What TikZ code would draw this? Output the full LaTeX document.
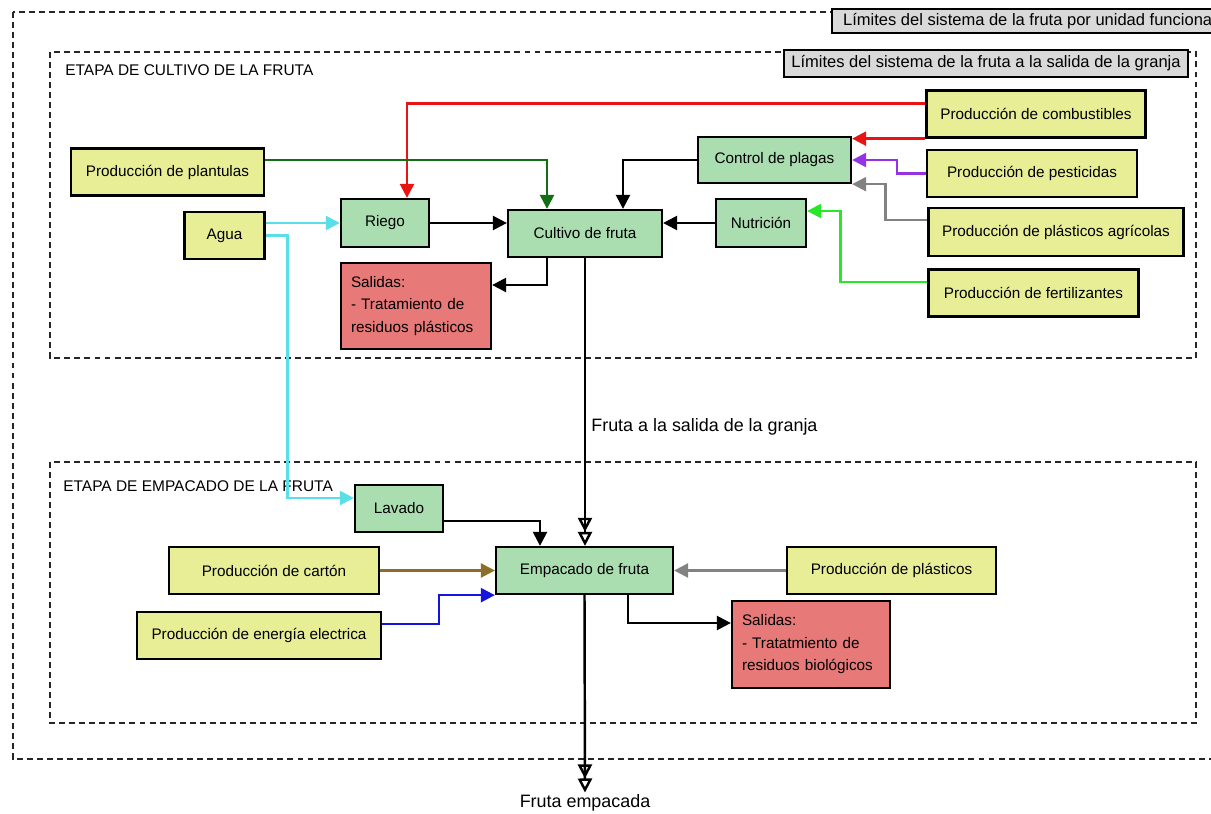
\documentclass[tikz,border=0pt]{standalone}
\usepackage{fontspec}
\setmainfont{Liberation Sans}
\usetikzlibrary{arrows.meta}

\definecolor{amarillo}{RGB}{232,238,150}
\definecolor{verdecaja}{RGB}{170,222,176}
\definecolor{rojocaja}{RGB}{231,122,120}
\definecolor{griscaja}{RGB}{217,217,217}
\definecolor{cian}{RGB}{90,222,232}
\definecolor{verdeoscuro}{RGB}{20,110,20}
\definecolor{verdeclaro}{RGB}{40,230,40}
\definecolor{rojoflecha}{RGB}{232,20,20}
\definecolor{morado}{RGB}{150,50,230}
\definecolor{grisflecha}{RGB}{130,130,130}
\definecolor{cafe}{RGB}{140,110,40}
\definecolor{azul}{RGB}{20,20,220}

\begin{document}
\begin{tikzpicture}[x=0.02cm, y=-0.02cm,
    caja/.style={draw, line width=1.3pt, font=\fontsize{8.7}{10}\selectfont, inner sep=2pt, minimum height=0.94cm},
    entrada/.style={caja, fill=amarillo},
    proceso/.style={caja, fill=verdecaja},
    salidas/.style={caja, fill=rojocaja, align=left, inner xsep=0.2cm, font=\fontsize{8.7}{12.8}\selectfont, minimum height=1.72cm},
    limite/.style={draw, line width=1.3pt, fill=griscaja, font=\fontsize{9.4}{11}\selectfont, inner sep=2pt},
    borde/.style={black!85, line width=0.9pt, dash pattern=on 3.4pt off 2.3pt},
    flujo/.style={->, line width=1.4pt},
    doble/.style={line width=1.4pt, -{Triangle[open,length=8pt,width=8pt]Triangle[open,length=8pt,width=8pt]}},
    >={Triangle[length=8pt,width=8pt]}]

        \useasboundingbox (0,0) rectangle (1211,814);

        % System boundaries
        \draw[borde] (13,12) rectangle (1240,759);
        \draw[borde] (50,52) rectangle (1196,358);
        \draw[borde] (50,462) rectangle (1196,723);
        \node[limite, anchor=north west, minimum height=0.48cm, inner xsep=0.22cm] (lim_total) at (831,8) {Límites del sistema de la fruta por unidad funcional};
        \node[limite, minimum width=8.08cm, minimum height=0.54cm] (lim_granja) at (986,63.5) {Límites del sistema de la fruta a la salida de la granja};

        % Stage titles
        \node[anchor=west, inner sep=0pt, font=\fontsize{8.8}{10}\selectfont] (etapa_cultivo) at (65,70) {ETAPA DE CULTIVO DE LA FRUTA};
        \node[anchor=west, inner sep=0pt, font=\fontsize{8.8}{10}\selectfont] (etapa_empacado) at (63,486) {ETAPA DE EMPACADO DE LA FRUTA};

        % Cultivation stage
        \node[entrada, minimum width=4.38cm] (combustibles) at (1036,114) {Producción de combustibles};
        \node[entrada, minimum width=3.86cm] (plantulas) at (167.5,172) {Producción de plantulas};
        \node[proceso, minimum width=3.06cm, minimum height=0.92cm] (plagas) at (774.5,160) {Control de plagas};
        \node[entrada, minimum width=4.2cm] (pesticidas) at (1032,173.5) {Producción de pesticidas};
        \node[entrada, minimum width=1.6cm] (agua) at (224.5,235.5) {Agua};
        \node[proceso, minimum width=1.76cm, minimum height=0.96cm] (riego) at (385,223) {Riego};
        \node[proceso, minimum width=3.08cm] (cultivo) at (585,233.5) {Cultivo de fruta};
        \node[proceso, minimum width=1.8cm, minimum height=0.96cm] (nutricion) at (761,223) {Nutrición};
        \node[entrada, minimum width=5.1cm, minimum height=0.96cm] (plasticos_agr) at (1056,232) {Producción de plásticos agrícolas};
        \node[entrada, minimum width=4.2cm] (fertilizantes) at (1033.5,293) {Producción de fertilizantes};
        \node[salidas, text width=2.6cm] (salidas_cultivo) at (416,306) {Salidas:\\- Tratamiento de\\residuos plásticos};

        % Farm gate output
        \node[anchor=west, inner sep=0pt, font=\fontsize{10.2}{12}\selectfont] (granja) at (591,427) {Fruta a la salida de la granja};

        % Packing stage
        \node[proceso, minimum width=1.76cm] (lavado) at (399,508.5) {Lavado};
        \node[proceso, minimum width=3.54cm] (empacado) at (584.5,570.5) {Empacado de fruta};
        \node[entrada, minimum width=4.2cm] (carton) at (274,570.5) {Producción de cartón};
        \node[entrada, minimum width=4.18cm] (plasticos) at (891.5,570.5) {Producción de plásticos};
        \node[entrada, minimum width=4.88cm] (energia) at (259,635.5) {Producción de energía electrica};
        \node[salidas, text width=2.76cm, minimum height=1.74cm] (salidas_empacado) at (811,644.5) {Salidas:\\- Tratatmiento de\\residuos biológicos};

        % Final product
        \node[inner sep=1pt, font=\fontsize{10.2}{12}\selectfont] (empacada) at (585,803) {Fruta empacada};

        % Connections in the cultivation stage
        \draw[flujo, rojoflecha] ([yshift=0.21cm]combustibles.west) -| ([xshift=0.44cm]riego.north);
        \draw[flujo, rojoflecha] (combustibles.south west) -- (combustibles.south west -| plagas.north east);
        \draw[flujo, verdeoscuro] ([yshift=0.24cm]plantulas.east) -| ([xshift=-0.76cm]cultivo.north);
        \draw[flujo] (plagas.west) -| ([xshift=0.76cm]cultivo.north);
        \draw[flujo, morado] (pesticidas.west) -- ([xshift=-0.58cm]pesticidas.west) |- (plagas.east);
        \draw[flujo, grisflecha] ([yshift=0.24cm]plasticos_agr.west) -- ([xshift=-0.84cm, yshift=0.24cm]plasticos_agr.west) |- (plagas.south east);
        \draw[flujo, verdeclaro] ([yshift=0.22cm]fertilizantes.west) -- ([xshift=-1.74cm, yshift=0.22cm]fertilizantes.west) |- ([yshift=0.24cm]nutricion.east);
        \draw[flujo] (nutricion.west) -- (nutricion.west -| cultivo.east);
        \draw[flujo] (riego.east) -- (riego.east -| cultivo.west);
        \draw[flujo, cian] (riego.west -| agua.east) -- (riego.west);
        \draw[flujo, cian] (agua.east) -- ([xshift=0.44cm]agua.east) |- ([yshift=0.21cm]lavado.west);
        \draw[flujo] ([xshift=-0.76cm]cultivo.south) |- ([yshift=0.42cm]salidas_cultivo.east);
        \draw[doble] (cultivo.south) -- (cultivo.south |- empacado.north);

        % Connections in the packing stage
        \draw[flujo] ([yshift=-0.25cm]lavado.east) -| ([xshift=-0.89cm]empacado.north);
        \draw[flujo, cafe] (carton.east) -- (empacado.west);
        \draw[flujo, azul] ([yshift=0.23cm]energia.east) -- ([xshift=1.14cm, yshift=0.23cm]energia.east) |- (empacado.south west);
        \draw[flujo, grisflecha] (plasticos.west) -- (empacado.east);
        \draw[flujo] ([xshift=0.87cm]empacado.south) |- ([yshift=0.43cm]salidas_empacado.west);
        \draw[doble] (empacado.south) -- (empacada.north);

    \end{tikzpicture}
\end{document}
